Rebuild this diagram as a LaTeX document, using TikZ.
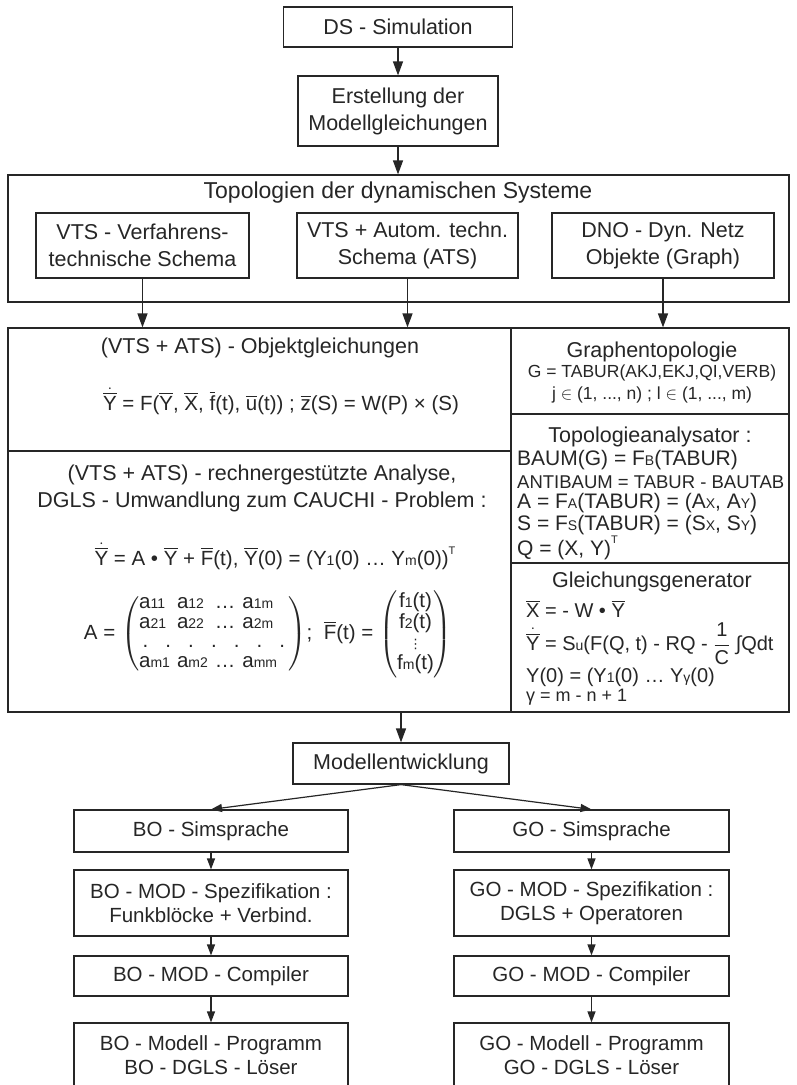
\documentclass[tikz,border=0pt]{standalone}
\usepackage{amsmath}
\usepackage{fontspec}
\setmainfont{Liberation Sans}
\newfontfamily\djv{DejaVu Sans}
\usetikzlibrary{arrows.meta}
\definecolor{ink}{HTML}{262626}
\newcommand{\FS}[2]{\fontsize{#1pt}{#2pt}\selectfont}
\newcommand{\ob}[1]{\ensuremath{\overline{\mbox{#1}}}}
\newcommand{\obd}[1]{\ensuremath{\dot{\overline{\mbox{#1}}}}}
\newcommand{\lo}[1]{{\fontsize{14pt}{14pt}\selectfont #1}}
\newcommand{\hi}[1]{\raisebox{0.55em}{\fontsize{11pt}{11pt}\selectfont #1}}
\newcommand{\vdt}{{\djv\fontsize{13pt}{13pt}\selectfont ⋮}}
\tikzset{
  box/.style={draw=ink, line width=1.2pt, text=ink, align=center, inner sep=0pt, font=\FS{21.5}{27}},
  lbox/.style={box, font=\FS{20.5}{24}},
  arr/.style={draw=ink, line width=1.3pt, -{Triangle[length=14pt,width=10pt]}},
  arrs/.style={draw=ink, line width=1.2pt, -{Triangle[length=11pt,width=8pt]}},
  txt/.style={text=ink, inner sep=0pt, align=center, font=\FS{21.5}{27}},
  eqn/.style={text=ink, inner sep=0pt, align=center, font=\FS{20.5}{24}},
  sml/.style={text=ink, inner sep=0pt, align=center, font=\FS{17.5}{21}},
  rline/.style={text=ink, inner sep=0pt, anchor=west, font=\FS{21}{24}},
  rlineq/.style={text=ink, inner sep=0pt, anchor=west, font=\FS{20}{24}},
  divider/.style={draw=ink, line width=1.2pt}
}
\begin{document}
\begin{tikzpicture}[x=1pt,y=-1pt]
\fill[white] (0,0) rectangle (796,1085);
\useasboundingbox (0,0) rectangle (796,1085);

% top chain
\node[box, minimum width=229pt, minimum height=40pt] (ds) at (398,27) {DS - Simulation};
\node[box, minimum width=200pt, minimum height=70pt] (erst) at (398,111) {Erstellung der\\Modellgleichungen};

% topology frame
\node[box, minimum width=781pt, minimum height=127pt] (topo) at (398.5,238.5) {};
\node[txt, font=\FS{23}{27}] (topotitle) at (398,193) {Topologien der dynamischen Systeme};
\node[box, minimum width=213pt, minimum height=65pt] (vts) at (142.5,245.5) {VTS - Verfahrens-\\technische Schema};
\node[box, minimum width=221pt, minimum height=65pt] (ats) at (407.5,245.5) {VTS + Autom. techn.\\Schema (ATS)};
\node[box, minimum width=222pt, minimum height=65pt] (dno) at (663,245.5) {DNO - Dyn. Netz\\Objekte (Graph)};

% big box
\node[box, minimum width=781pt, minimum height=384pt] (big) at (398.5,520) {};
\draw[divider] (511,328) -- (511,712);
\draw[divider] (8,451) -- (511,451);
\draw[divider] (511,414) -- (789,414);
\draw[divider] (511,563) -- (789,563);

% left column
\node[txt] (objt) at (260,348) {(VTS + ATS) - Objektgleichungen};
\node[eqn] (eq1) at (281,401) {\obd{Y} = F(\ob{Y}, \ob{X}, \ob{f}(t), \ob{u}(t)) ;\ \ob{z}(S) = W(P) × (S)};
\node[txt] (anal) at (262,488) {(VTS + ATS) - rechnergestützte Analyse,\\DGLS - Umwandlung zum CAUCHI - Problem :};
\node[eqn] (eq2) at (275,556) {\obd{Y} = A • \ob{Y} + \ob{F}(t), \ob{Y}(0) = (Y\lo{1}(0) … Y\lo{m}(0))\hi{T}};
\node[eqn] (mat) at (268,634) {A = $\left(\renewcommand{\arraystretch}{0.82}\setlength{\tabcolsep}{3.5pt}\begin{tabular}{@{}llll@{}}
a\lo{11} & a\lo{12} & … & a\lo{1m}\\
a\lo{21} & a\lo{22} & … & a\lo{2m}\\
\multicolumn{4}{c}{.\ \ \ .\ \ \ .\ \ \ .\ \ \ .\ \ \ .\ \ \ .}\\
a\lo{m1} & a\lo{m2} & … & a\lo{mm}
\end{tabular}\right)$;\ \ \ob{F}(t) = $\left(\renewcommand{\arraystretch}{0.85}\setlength{\tabcolsep}{1pt}\begin{tabular}{@{}c@{}}
f\lo{1}(t)\\ f\lo{2}(t)\\ \vdt\\ f\lo{m}(t)
\end{tabular}\right)$};

% right column
\node[txt] (gtitle) at (652,352) {Graphentopologie};
\node[sml] (gline) at (652,373) {G = TABUR(AKJ,EKJ,QI,VERB)};
\node[sml] (jline) at (652,395) {j $\in$ (1, ..., n) ; l $\in$ (1, ..., m)};
\node[txt] (tatitle) at (650,437) {Topologieanalysator :};
\node[rline] (baum) at (517,460) {BAUM(G) = F\lo{B}(TABUR)};
\node[rline, font=\FS{18.5}{22}] (anti) at (517,482) {ANTIBAUM = TABUR - BAUTAB};
\node[rline] (aline) at (517,503) {A = F\lo{A}(TABUR) = (A\lo{X}, A\lo{Y})};
\node[rline] (sline) at (517,525) {S = F\lo{S}(TABUR) = (S\lo{X}, S\lo{Y})};
\node[rline] (qline) at (517,548) {Q = (X, Y)\hi{T}};
\node[txt] (gltitle) at (652,582) {Gleichungsgenerator};
\node[rlineq] (xline) at (526,609) {\ob{X} = - W • \ob{Y}};
\node[rlineq] (yline) at (526,644) {\obd{Y} = S\lo{u}(F(Q, t) - RQ - $\dfrac{\mbox{1}}{\mbox{C}}$ ∫Qdt};
\node[rlineq] (y0line) at (526,677) {Y(0) = (Y\lo{1}(0) … Y\lo{γ}(0)};
\node[rlineq, font=\FS{18}{20}] (gamline) at (526,697) {γ = m - n + 1};

% lower part
\node[box, minimum width=216pt, minimum height=41pt] (modell) at (401,763.5) {Modellentwicklung};
\node[lbox, minimum width=274pt, minimum height=42pt] (bosim) at (211,831) {BO - Simsprache};
\node[lbox, minimum width=275pt, minimum height=42pt] (gosim) at (591.5,831) {GO - Simsprache};
\node[lbox, minimum width=274pt, minimum height=66pt] (bospec) at (211,903) {BO - MOD - Spezifikation :\\Funkblöcke + Verbind.};
\node[lbox, minimum width=275pt, minimum height=66pt] (gospec) at (591.5,903) {GO - MOD - Spezifikation :\\DGLS + Operatoren};
\node[lbox, minimum width=274pt, minimum height=40pt] (bocomp) at (211,976) {BO - MOD - Compiler};
\node[lbox, minimum width=275pt, minimum height=40pt] (gocomp) at (591.5,976) {GO - MOD - Compiler};
\node[lbox, minimum width=274pt, minimum height=64pt] (boprog) at (211,1055) {BO - Modell - Programm\\BO - DGLS - Löser};
\node[lbox, minimum width=275pt, minimum height=64pt] (goprog) at (591.5,1055) {GO - Modell - Programm\\GO - DGLS - Löser};

% connectors
\draw[arr] (ds) -- (erst);
\draw[arr] (erst.south) -- (erst.south |- topo.north);
\draw[arr] (vts.south) -- (vts.south |- big.north);
\draw[arr] (ats.south) -- (ats.south |- big.north);
\draw[arr] (dno.south) -- (dno.south |- big.north);
\draw[arr] (modell.north |- big.south) -- (modell.north);
\draw[arrs] (modell.south) -- (bosim.north);
\draw[arrs] (modell.south) -- (gosim.north);
\draw[arrs] (bosim) -- (bospec);
\draw[arrs] (gosim) -- (gospec);
\draw[arrs] (bospec) -- (bocomp);
\draw[arrs] (gospec) -- (gocomp);
\draw[arrs] (bocomp) -- (boprog);
\draw[arrs] (gocomp) -- (goprog);
\end{tikzpicture}
\end{document}
